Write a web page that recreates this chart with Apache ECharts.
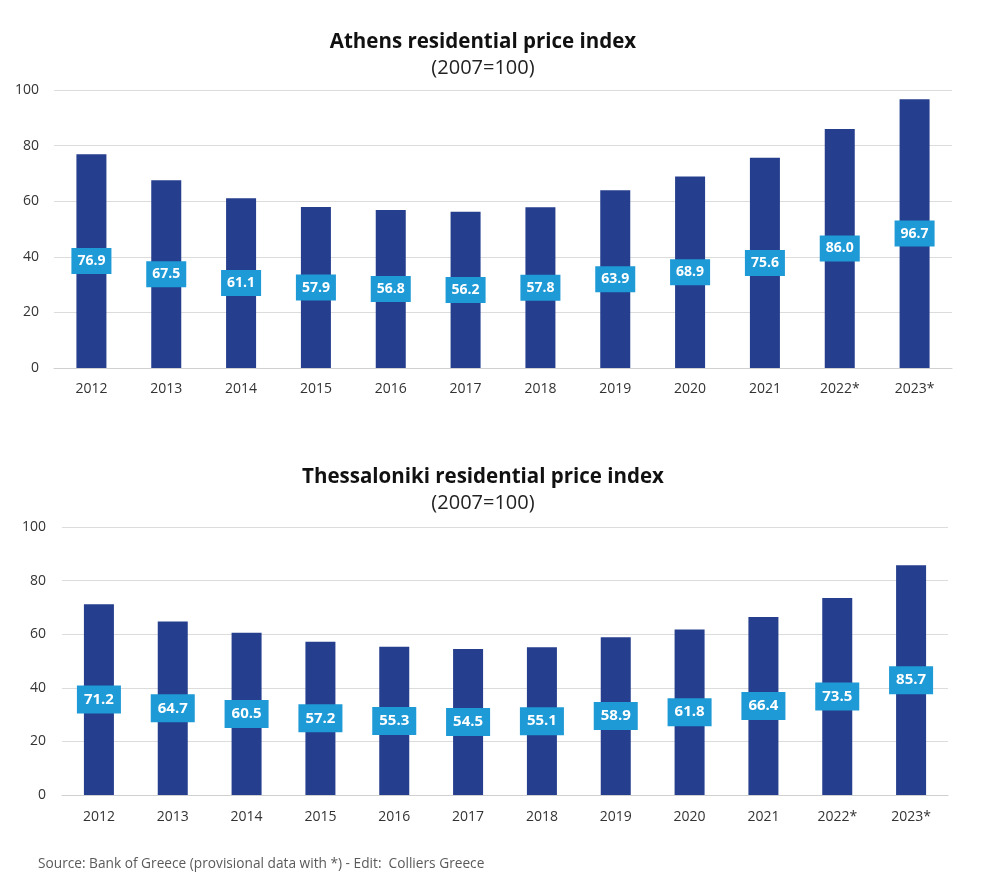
<!DOCTYPE html>
<html><head><meta charset="utf-8">
<script src="https://cdn.jsdelivr.net/npm/echarts@6/dist/echarts.min.js"></script>
<style>html,body{margin:0;padding:0;background:#fff}#c{width:1000px;height:892px}</style>
</head><body><div id="c"></div>
<script>
var categories = ['2012','2013','2014','2015','2016','2017','2018','2019','2020','2021','2022*','2023*'];
var athens = [76.9,67.5,61.1,57.9,56.8,56.2,57.8,63.9,68.9,75.6,86.0,96.7];
var thessaloniki = [71.2,64.7,60.5,57.2,55.3,54.5,55.1,58.9,61.8,66.4,73.5,85.7];
var yTicks = [0,20,40,60,80,100];

var FONT = '"Open Sans", "Noto Sans", sans-serif';
var chart = echarts.init(document.getElementById('c'), null, {renderer:'canvas'});
function xAxis(i,m){return {type:'category',gridIndex:i,data:categories,axisTick:{show:false},
  axisLine:{lineStyle:{color:'#d0d0d0'}},axisLabel:{color:'#333',fontSize:14,fontFamily:FONT,margin:m}};}
function yAxis(i,m){return {type:'value',gridIndex:i,min:yTicks[0],max:yTicks[yTicks.length-1],interval:20,
  axisLabel:{color:'#333',fontSize:14,fontFamily:FONT,margin:m},
  splitLine:{lineStyle:{color:'#dcdcdc'}},axisLine:{show:false},axisTick:{show:false}};}
function ser(i,data,fs,pad){return {type:'bar',xAxisIndex:i,yAxisIndex:i,data:data,barWidth:30,
  itemStyle:{color:'#253e8d'},
  label:{show:true,position:'inside',formatter:function(p){return p.value.toFixed(1);},
    color:'#fff',fontWeight:'bold',fontSize:fs,fontFamily:FONT,backgroundColor:'#1e9ad6',
    padding:pad}};}
function t(text,top,size,bold){return {text:text,left:478,textAlign:'center',top:top,
  textStyle:{fontSize:size,fontWeight:bold?'bold':'normal',color:bold?'#111':'#222',fontFamily:FONT}};}
chart.setOption({
  animation:false,
  title:[
    t('Athens residential price index',27,20.5,true),
    t('(2007=100)',53,20,false),
    t('Thessaloniki residential price index',462,20.5,true),
    t('(2007=100)',488,20,false),
    {text:'Source: Bank of Greece (provisional data with *) - Edit:  Colliers Greece',left:33,top:852,textStyle:{fontSize:13.7,fontWeight:'normal',color:'#5a5a5a',fontFamily:FONT}}
  ],
  grid:[{left:54,right:48,top:90,bottom:524},{left:62,right:52,top:527,bottom:97}],
  xAxis:[xAxis(0,14),xAxis(1,15)],
  yAxis:[yAxis(0,15),yAxis(1,16)],
  series:[ser(0,athens,14,[6,6,6,6]),ser(1,thessaloniki,15,[7,7,6,7])]
});
</script></body></html>
